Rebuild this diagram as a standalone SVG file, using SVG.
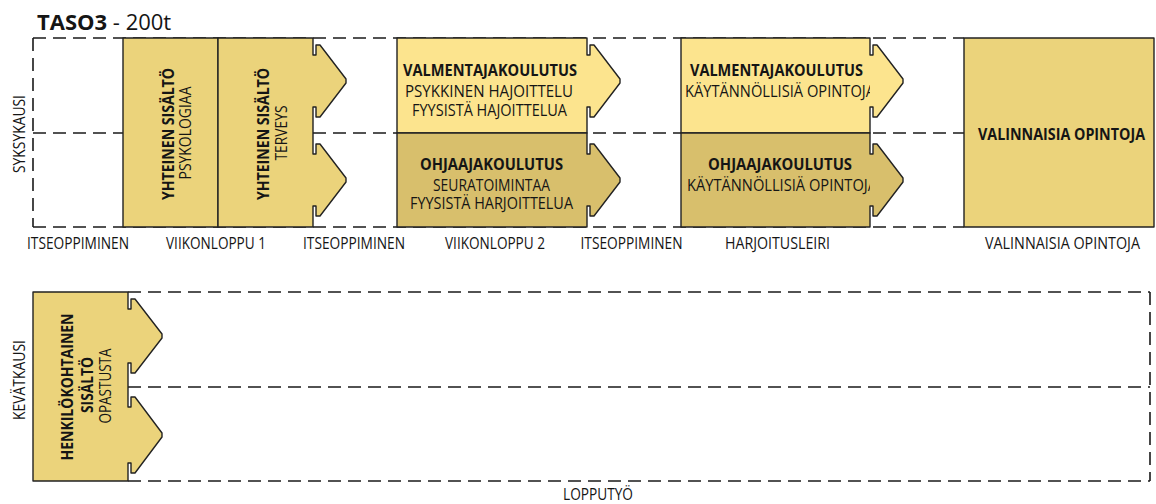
<svg xmlns="http://www.w3.org/2000/svg" width="1156" height="504" viewBox="0 0 1156 504">
<style>
  .dash { fill: none; stroke: #1a1a1a; stroke-width: 1.6; stroke-dasharray: 13 7; }
  .box { stroke: #222; stroke-width: 1.4; stroke-linejoin: round; }
  .ochre { fill: #EBD37B; }
  .light { fill: #FCE48E; }
  .dark { fill: #D8BF6C; }
  text { font-family: "Open Sans", "Liberation Sans", sans-serif; fill: #151515; }
  .b { font-weight: 700; font-size: 16px; }
  .r { font-weight: 400; font-size: 15.5px; }
  .lbl { font-weight: 400; font-size: 15.5px; }
</style>
<defs>
  <clipPath id="clipV3"><rect x="681" y="38" width="189" height="95"/></clipPath>
  <clipPath id="clipO3"><rect x="681" y="133" width="189" height="94"/></clipPath>
</defs>
<rect width="1156" height="504" fill="#ffffff"/>

<g id="title">
  <text x="37" y="30" style="font-size:22px"><tspan font-weight="700">TASO3</tspan><tspan font-weight="400"> - 200t</tspan></text>
</g>

<g id="connectors">
  <path class="dash" d="M33,38 H964"/>
  <path class="dash" d="M33,133 H964"/>
  <path class="dash" d="M33,227 H964"/>
  <path class="dash" d="M33,38 V227"/>
  <path class="dash" d="M128,292 H1150"/>
  <path class="dash" d="M128,387 H1150"/>
  <path class="dash" d="M128,481 H1150"/>
  <path class="dash" d="M1150,292 V481"/>
</g>

<g id="season-labels">
  <text class="lbl" transform="translate(25,134) rotate(-90)" text-anchor="middle" textLength="78" lengthAdjust="spacingAndGlyphs">SYKSYKAUSI</text>
  <text class="lbl" transform="translate(24.5,380) rotate(-90)" text-anchor="middle" textLength="80" lengthAdjust="spacingAndGlyphs">KEVÄTKAUSI</text>
</g>

<g id="node-yhteinen-psykologiaa">
  <rect class="box ochre" x="123" y="38" width="95" height="189"/>
  <text class="b" transform="translate(173.5,134) rotate(-90)" text-anchor="middle" textLength="132" lengthAdjust="spacingAndGlyphs">YHTEINEN SISÄLTÖ</text>
  <text class="r" transform="translate(191,133) rotate(-90)" text-anchor="middle" textLength="93" lengthAdjust="spacingAndGlyphs">PSYKOLOGIAA</text>
</g>

<g id="node-yhteinen-terveys">
  <path class="box ochre" d="M218,38 H313 V55 H316 V45 H320 L346,79 L346,83 L320,117 H316 V107 H313 V154 H316 V144 H320 L346,178 L346,182 L320,216 H316 V206 H313 V227 H218 Z"/>
  <text class="b" transform="translate(269,134) rotate(-90)" text-anchor="middle" textLength="132" lengthAdjust="spacingAndGlyphs">YHTEINEN SISÄLTÖ</text>
  <text class="r" transform="translate(286.5,133) rotate(-90)" text-anchor="middle" textLength="55" lengthAdjust="spacingAndGlyphs">TERVEYS</text>
</g>

<g id="node-valmentaja-1">
  <path class="box light" d="M397,38 H587 V55 H590 V45 H594 L620,79 L620,83 L594,117 H590 V107 H587 V133 H397 Z"/>
  <text class="b" x="490" y="76" text-anchor="middle" textLength="174" lengthAdjust="spacingAndGlyphs">VALMENTAJAKOULUTUS</text>
  <text class="r" x="489" y="97" text-anchor="middle" textLength="168" lengthAdjust="spacingAndGlyphs">PSYKKINEN HAJOITTELU</text>
  <text class="r" x="489.5" y="115.5" text-anchor="middle" textLength="155" lengthAdjust="spacingAndGlyphs">FYYSISTÄ HAJOITTELUA</text>
</g>

<g id="node-ohjaaja-1">
  <path class="box dark" d="M397,133 H587 V154 H590 V144 H594 L620,178 L620,182 L594,216 H590 V206 H587 V227 H397 Z"/>
  <text class="b" x="491.5" y="169.5" text-anchor="middle" textLength="143" lengthAdjust="spacingAndGlyphs">OHJAAJAKOULUTUS</text>
  <text class="r" x="491.5" y="190.5" text-anchor="middle" textLength="117" lengthAdjust="spacingAndGlyphs">SEURATOIMINTAA</text>
  <text class="r" x="491.5" y="208.5" text-anchor="middle" textLength="163" lengthAdjust="spacingAndGlyphs">FYYSISTÄ HARJOITTELUA</text>
</g>

<g id="node-valmentaja-2">
  <path class="box light" d="M681,38 H870 V55 H873 V45 H877 L903,79 L903,83 L877,117 H873 V107 H870 V133 H681 Z"/>
  <text class="b" x="776.5" y="76" text-anchor="middle" textLength="173" lengthAdjust="spacingAndGlyphs">VALMENTAJAKOULUTUS</text>
  <text class="r" clip-path="url(#clipV3)" x="685" y="97" textLength="190" lengthAdjust="spacingAndGlyphs">KÄYTÄNNÖLLISIÄ OPINTOJA</text>
</g>

<g id="node-ohjaaja-2">
  <path class="box dark" d="M681,133 H870 V154 H873 V144 H877 L903,178 L903,182 L877,216 H873 V206 H870 V227 H681 Z"/>
  <text class="b" x="780" y="169.5" text-anchor="middle" textLength="144" lengthAdjust="spacingAndGlyphs">OHJAAJAKOULUTUS</text>
  <text class="r" clip-path="url(#clipO3)" x="687" y="190.5" textLength="190" lengthAdjust="spacingAndGlyphs">KÄYTÄNNÖLLISIÄ OPINTOJA</text>
</g>

<g id="node-valinnaisia">
  <rect class="box ochre" x="964" y="38" width="190" height="189"/>
  <text class="b" x="1061.5" y="139.5" text-anchor="middle" textLength="167" lengthAdjust="spacingAndGlyphs" style="font-size:15.5px">VALINNAISIA OPINTOJA</text>
</g>

<g id="node-henkilokohtainen">
  <path class="box ochre" d="M33,292 H128 V309 H131 V299 H135 L162,334 L162,338 L135,373 H131 V363 H128 V407 H131 V397 H135 L162,433 L162,437 L135,473 H131 V463 H128 V481 H33 Z"/>
  <text class="b" transform="translate(72.5,387) rotate(-90)" text-anchor="middle" textLength="147" lengthAdjust="spacingAndGlyphs">HENKILÖKOHTAINEN</text>
  <text class="b" transform="translate(92.5,385) rotate(-90)" text-anchor="middle" textLength="56" lengthAdjust="spacingAndGlyphs">SISÄLTÖ</text>
  <text class="r" transform="translate(111,386) rotate(-90)" text-anchor="middle" textLength="75" lengthAdjust="spacingAndGlyphs">OPASTUSTA</text>
</g>

<g id="phase-labels">
  <text class="lbl" x="78" y="249" text-anchor="middle" textLength="102" lengthAdjust="spacingAndGlyphs">ITSEOPPIMINEN</text>
  <text class="lbl" x="216" y="249" text-anchor="middle" textLength="100" lengthAdjust="spacingAndGlyphs">VIIKONLOPPU 1</text>
  <text class="lbl" x="354" y="249" text-anchor="middle" textLength="102" lengthAdjust="spacingAndGlyphs">ITSEOPPIMINEN</text>
  <text class="lbl" x="495" y="249" text-anchor="middle" textLength="100" lengthAdjust="spacingAndGlyphs">VIIKONLOPPU 2</text>
  <text class="lbl" x="631.5" y="249" text-anchor="middle" textLength="102" lengthAdjust="spacingAndGlyphs">ITSEOPPIMINEN</text>
  <text class="lbl" x="777.5" y="249" text-anchor="middle" textLength="105" lengthAdjust="spacingAndGlyphs">HARJOITUSLEIRI</text>
  <text class="lbl" x="1062.5" y="249" text-anchor="middle" textLength="155" lengthAdjust="spacingAndGlyphs">VALINNAISIA OPINTOJA</text>
  <text class="lbl" x="598" y="500" text-anchor="middle" textLength="70" lengthAdjust="spacingAndGlyphs">LOPPUTYÖ</text>
</g>
</svg>
